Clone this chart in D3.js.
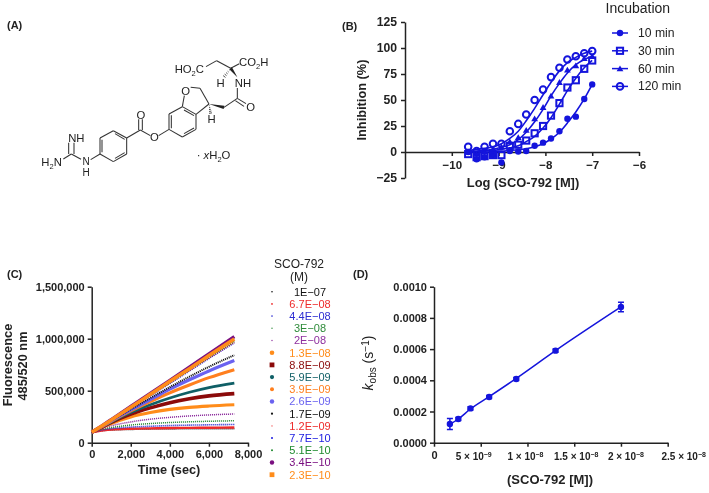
<!DOCTYPE html>
<html><head><meta charset="utf-8">
<script src="https://cdn.jsdelivr.net/npm/d3@7"></script>
<style>
html,body{margin:0;padding:0;background:#fff}
svg{display:block;filter:blur(0.3px)}
text{font-family:"Liberation Sans",Arial,sans-serif;fill:#222}
.tick text{font-weight:bold;fill:#222}
.axis path,.axis line{stroke:#222;stroke-width:1.5;shape-rendering:auto}
</style></head><body>
<svg id="c" width="709" height="493"></svg>
<script>
// ---------- Panel B data
const logDose=[-9.65,-9.47,-9.3,-9.12,-8.94,-8.76,-8.58,-8.41,-8.23,-8.05,-7.88,-7.7,-7.53,-7.35,-7.17,-7];
const b10=[0,-7,-5,-3,-10,1,0.5,1,6,9,13,20,32,34,51,65];
const b30=[-2,-5,-4,-3,-3,6,7,11,18,25,35,47,62,69,80,88];
const b60=[0,-2,0,3,5,10,14,21,32,43,54,67,79,83,90,92];
const b120=[5,1,5,8,8,20,27,36,50,60,72,81,89,92,95,97];
const fit10=[0,0,0,0.3,0.8,1.5,2.2,3.2,5,8,12.5,19,28,38.5,51,65];
const fit30=[0,0.3,0.8,1.5,2.5,4,6,10,15,23,33,46,59,71,81,88];
const fit60=[0.5,1,1.5,2.5,4.5,7,12,19,29,41,54,66,76,84,89,92];
const fit120=[1.5,2.5,3.5,5,8,13,20,30,42,55,67,78,86,91,95,97];
const incubLabels=["10 min","30 min","60 min","120 min"];
const bXTicks=[-10,-9,-8,-7,-6];
const bYTicks=[-25,0,25,50,75,100,125];
// ---------- Panel C data
const timeSec=[0,500,1000,2000,3000,4000,5000,6000,7300];
const concLabels=["1E−07","6.7E−08","4.4E−08","3E−08","2E−08","1.3E−08","8.8E−09","5.9E−09","3.9E−09","2.6E−09","1.7E−09","1.2E−09","7.7E−10","5.1E−10","3.4E−10","2.3E−10"];
const c1=[100000,115000,122000,128000,131000,133000,134000,135000,135000];
const c2=[100000,117000,126000,134000,138000,141000,143000,144000,146000];
const c3=[100000,122000,135000,150000,158000,165000,169000,172000,175000];
const c4=[100000,128000,145000,170000,184000,194000,201000,206000,211000];
const c5=[100000,135000,162000,200000,226000,244000,257000,267000,276000];
const c6=[100000,145000,185000,248000,290000,320000,340000,353000,365000];
const c7=[100000,148000,195000,275000,335000,385000,422000,450000,472000];
const c8=[100000,150000,200000,290000,365000,430000,485000,530000,572000];
const c9=[100000,152000,205000,305000,395000,480000,555000,625000,702000];
const c10=[100000,154000,210000,315000,415000,515000,605000,690000,790000];
const c11=[100000,155000,212000,322000,430000,535000,635000,730000,842000];
const c12=[100000,157000,216000,335000,455000,575000,695000,815000,965000];
const c13=[100000,157000,216000,335000,452000,570000,690000,810000,960000];
const c14=[100000,158000,217000,336000,457000,578000,700000,822000,975000];
const c15=[100000,160000,222000,348000,475000,600000,727000,855000,1020000];
const c16=[100000,158000,218000,340000,465000,590000,712000,838000,998000];
const cXTicks=[0,2000,4000,6000,8000];
const cYTicks=[0,500000,1000000,1500000];
// ---------- Panel D data
const doseD=[1.7e-9,2.6e-9,3.9e-9,5.9e-9,8.8e-9,1.3e-8,2e-8];
const kobs=[0.00012,0.000152,0.00022,0.000293,0.000408,0.00059,0.00087];
const kobsErr=[0.000035,0.00001,0.00001,0.00001,0.00001,0.00001,0.00003];
const dFit=[0.000118,0.000152,0.000216,0.000295,0.000412,0.00059,0.00087];
const dYTicks=[0,0.0002,0.0004,0.0006,0.0008,0.001];
const dXTicks=[0,5e-9,1e-8,1.5e-8,2e-8,2.5e-8];
const dXMant=["5","1","1.5","2","2.5"];
const dXExp=["−9","−8","−8","−8","−8"];
// ---------- Panel A structure (drawing units)
const singleBonds=[[340,392,380,414],[380,462,340,485],[300,414,340,392],[300,462,300,414],[380,414,380,462],[340,485,300,462],
[380,414,421,390],[421,390,451,407],[476,407,507,388],[507,388,507,342],[507,342,547,320],[547,320,588,343],[588,343,588,388],[588,388,547,411],[547,411,507,388],
[547,320,553,287],[572,262,600,265],[600,265,627,312],[627,312,588,343],[672,322,712,295],[712,295,712,264],[712,295,738,311],
[692,205,650,182],[650,182,618,200],[692,205,718,191],[300,462,272,479],[243,478,214,462],[214,462,190,477]];
const innerBonds=[[345,401,374,418],[374,458,345,475],[306,457,306,419],[416,390,416,358],[427,390,427,358],[514,385,514,346],[552,330,582,347],[582,384,552,401],[706,302,732,319],[222,462,222,428],[206,462,206,428]];
const wedges=[[627,312,672,322],[712,232,692,205]];
const hashes=[[627,312,632,342],[692,205,671,232]];
const chemLabels=[["O",423,344],["O",463,412],["O",557,272],["O",752,320],["H",635,358],["H",662,249],["NH",729,249],["NH",229,414],["N",258,484],["H",258,517]];

const NAVY="#1414dc";
const svg=d3.select("#c");
function T(x,y,s,o={}){const t=svg.append("text").attr("x",x).attr("y",y).text(s)
 .attr("font-size",o.size||10.5).attr("font-weight",o.bold?"bold":"normal").attr("text-anchor",o.anchor||"start");
 if(o.fill)t.style("fill",o.fill); if(o.rot!=null)t.attr("transform",`rotate(${o.rot} ${x} ${y})`); return t;}
[["(A)",7,29],["(B)",342,30],["(C)",7,278],["(D)",353,278]].forEach(d=>T(d[1],d[2],d[0],{bold:true,size:11}));

// ---- Panel A
const cx=d3.scaleLinear().domain([0,1020]).range([0,340]);
const cy=d3.scaleLinear().domain([0,600]).range([0,200]);
const gA=svg.append("g");
gA.selectAll(".b").data(singleBonds.concat(innerBonds)).join("line")
 .attr("x1",d=>cx(d[0])).attr("y1",d=>cy(d[1])).attr("x2",d=>cx(d[2])).attr("y2",d=>cy(d[3]))
 .attr("stroke","#333").attr("stroke-width",1.05);
gA.selectAll(".w").data(wedges).join("path")
 .attr("d",d=>{const dx=d[2]-d[0],dy=d[3]-d[1],l=Math.hypot(dx,dy),nx=-dy/l*5,ny=dx/l*5;
  return `M${cx(d[0])},${cy(d[1])}L${cx(d[2]+nx)},${cy(d[3]+ny)}L${cx(d[2]-nx)},${cy(d[3]-ny)}Z`;}).attr("fill","#222");
hashes.forEach(d=>{d3.range(1,6).forEach(i=>{const f=i/5.5,xm=d[0]+(d[2]-d[0])*f,ym=d[1]+(d[3]-d[1])*f;
 const dx=d[2]-d[0],dy=d[3]-d[1],l=Math.hypot(dx,dy),w=f*5;
 gA.append("line").attr("x1",cx(xm-dy/l*w)).attr("y1",cy(ym+dx/l*w)).attr("x2",cx(xm+dy/l*w)).attr("y2",cy(ym-dx/l*w)).attr("stroke","#222").attr("stroke-width",0.8);});});
chemLabels.forEach(d=>T(cx(d[1]),cy(d[2])+4,d[0],{size:d[0]==="N"||d[2]===517?10:11.3,anchor:"middle"}));
function chem(x,y,parts,anchor){const t=T(x,y,"",{size:11.3,anchor:anchor||"start"});
 parts.forEach(p=>{const s=t.append("tspan").text(p[0]);if(p[1]){s.attr("font-size",7.5).attr("dy",3);}else if(p[2]){s.attr("dy",-3);} if(p[3])s.attr("font-style","italic");});return t;}
chem(cx(524),cy(218),[["HO"],["2",1],["C",0,1]]);
chem(cx(717),cy(197),[["CO"],["2",1],["H",0,1]]);
chem(cx(124),cy(499),[["H"],["2",1],["N",0,1]]);
chem(cx(590),cy(477),[["· "],["x",0,0,1],["H"],["2",1],["O",0,1]]);

function styleAxis(g,size){g.attr("class","axis");g.selectAll(".tick text").attr("font-size",size);g.select(".domain").attr("fill","none");return g;}
const minus=s=>String(s).replace("-","−");

// ---- Panel B
const bx=d3.scaleLinear().domain([-11,-6]).range([405,639]);
const by=d3.scaleLinear().domain([-25,125]).range([178,22]);
styleAxis(svg.append("g").attr("transform",`translate(0,${by(0)})`)
 .call(d3.axisBottom(bx).tickValues(bXTicks).tickSize(4).tickSizeOuter(0).tickPadding(5).tickFormat(minus)),11.5);
styleAxis(svg.append("g").attr("transform",`translate(${bx(-11)},0)`)
 .call(d3.axisLeft(by).tickValues(bYTicks).tickSize(4).tickSizeOuter(0).tickPadding(4).tickFormat(minus)),12.2);
T(523,187,"Log (SCO-792 [M])",{bold:true,size:12.9,anchor:"middle"});
T(366,100,"Inhibition (%)",{bold:true,size:12.8,anchor:"middle",rot:-90});
const bFits=[fit10,fit30,fit60,fit120], bVals=[b10,b30,b60,b120], bKinds=["dot","square","tri","ring"];
const ln=d3.line().curve(d3.curveMonotoneX);
function marker(sel,kind,x,y){
 if(kind==="dot")sel.append("circle").attr("cx",x).attr("cy",y).attr("r",3.2).attr("fill",NAVY);
 if(kind==="ring")sel.append("circle").attr("cx",x).attr("cy",y).attr("r",3.3).attr("fill","none").attr("stroke",NAVY).attr("stroke-width",2);
 if(kind==="square")sel.append("rect").attr("x",x-3.1).attr("y",y-3.1).attr("width",6.2).attr("height",6.2).attr("fill","none").attr("stroke",NAVY).attr("stroke-width",2);
 if(kind==="tri")sel.append("path").attr("d",`M${x},${y-3.2}L${x+3.4},${y+2.6}L${x-3.4},${y+2.6}Z`).attr("fill",NAVY);
}
bFits.forEach((f,i)=>{
 svg.append("path").attr("d",ln(logDose.map((d,j)=>[bx(d),by(f[j])]))).attr("fill","none").attr("stroke",NAVY).attr("stroke-width",1.6);
 const g=svg.append("g");
 logDose.forEach((d,j)=>marker(g,bKinds[i],bx(d),by(bVals[i][j])));
});
T(605.5,12.5,"Incubation",{size:14});
incubLabels.forEach((s,i)=>{const y=33+i*17.8;
 svg.append("line").attr("x1",612).attr("x2",628).attr("y1",y).attr("y2",y).attr("stroke",NAVY).attr("stroke-width",1.5);
 marker(svg.append("g"),bKinds[i],620,y);
 T(638,y+4,s,{size:12.2});
});

// ---- Panel C
const tx=d3.scaleLinear().domain([0,8000]).range([91.7,248]);
const fy=d3.scaleLinear().domain([0,1500000]).range([442.7,286.7]);
styleAxis(svg.append("g").attr("transform",`translate(0,${fy(0)})`)
 .call(d3.axisBottom(tx).tickValues(cXTicks).tickSize(4).tickSizeOuter(0).tickPadding(4).tickFormat(d3.format(","))),11);
styleAxis(svg.append("g").attr("transform",`translate(${tx(0)},0)`)
 .call(d3.axisLeft(fy).tickValues(cYTicks).tickSize(4).tickSizeOuter(0).tickPadding(3).tickFormat(d3.format(","))),11);
T(169,474,"Time (sec)",{bold:true,size:12.7,anchor:"middle"});
T(12,365,"Fluorescence",{bold:true,size:12.8,anchor:"middle",rot:-90});
T(27,366,"485/520 nm",{bold:true,size:12.8,anchor:"middle",rot:-90});
const cSeries=[c1,c2,c3,c4,c5,c6,c7,c8,c9,c10,c11,c12,c13,c14,c15,c16];
const cColors=["#111","#ee2a2a","#2c2cd2","#2e8b3a","#8e2f9e","#ff8c1a","#8b0a0a","#0f5f66","#ff7f1e","#6a62f0","#111","#ee2a2a","#1a1ae0","#1e8a2e","#7a0f80","#ff8c1a"];
const cWidth=[1.6,2.4,1.6,1.5,1.5,3.2,3.6,2.8,3,3.2,2,1.4,1.6,1.6,3.4,3.6];
const cDash=[1,0,1,1,1,0,0,0,0,0,1,1,1,1,0,0];
const cOrder=[0,1,2,3,4,5,6,7,8,9,10,12,11,13,14,15];
const clinear=d3.line().curve(d3.curveMonotoneX);
cOrder.forEach(i=>{
 const p=svg.append("path").attr("d",clinear(timeSec.map((t,j)=>[tx(t),fy(cSeries[i][j])])))
  .attr("fill","none").attr("stroke",cColors[i]).attr("stroke-width",cWidth[i]);
 if(cDash[i])p.attr("stroke-dasharray","1.1 0.9");
});
T(299,267.5,"SCO-792",{size:12,anchor:"middle"});
T(299,281,"(M)",{size:12,anchor:"middle"});
const cMark=[0.8,0.9,0.8,0.7,0.7,2.3,2.4,2.1,2,2.2,1.1,0.6,1,1,2.2,2.4];
concLabels.forEach((s,i)=>{const y=291.7+i*12.2;
 if(i===6||i===15)svg.append("rect").attr("x",272-cMark[i]).attr("y",y-cMark[i]).attr("width",2*cMark[i]).attr("height",2*cMark[i]).attr("fill",cColors[i]);
 else svg.append("circle").attr("cx",272).attr("cy",y).attr("r",cMark[i]).attr("fill",cColors[i]);
 T(310,y+3.8,s,{size:11,anchor:"middle",fill:cColors[i]});
});

// ---- Panel D
const dx=d3.scaleLinear().domain([0,2.5e-8]).range([434,667.7]);
const dy=d3.scaleLinear().domain([0,0.001]).range([442.7,286.7]);
const axD=svg.append("g").attr("transform",`translate(0,${dy(0)})`)
 .call(d3.axisBottom(dx).tickValues(dXTicks).tickSize(4).tickSizeOuter(0).tickPadding(5).tickFormat(d=>d===0?"0":""));
styleAxis(axD,11);
const dXOff=[-7,-2,2,5,16];
dXMant.forEach((m,i)=>{const x=dx(dXTicks[i+1])+dXOff[i];
 const t=T(x,460,"",{bold:true,size:10,anchor:"middle"});
 t.append("tspan").text(m+" × 10");
 t.append("tspan").text(dXExp[i]).attr("font-size",7).attr("dy",-3.5);
});
styleAxis(svg.append("g").attr("transform",`translate(${dx(0)},0)`)
 .call(d3.axisLeft(dy).tickValues(dYTicks).tickSize(4).tickSizeOuter(0).tickPadding(3).tickFormat(d3.format(".4f"))),11);
T(550,484,"(SCO-792 [M])",{bold:true,size:13,anchor:"middle"});
const yt=T(373,363,"",{size:14,anchor:"middle",rot:-90});
yt.append("tspan").text("k").attr("font-style","italic");
yt.append("tspan").text("obs").attr("font-size",10).attr("dy",3);
yt.append("tspan").text(" (s").attr("dy",-3);
yt.append("tspan").text("−1").attr("font-size",10).attr("dy",-4);
yt.append("tspan").text(")").attr("dy",4);
svg.append("path").attr("d",ln(doseD.map((d,i)=>[dx(d),dy(dFit[i])]))).attr("fill","none").attr("stroke",NAVY).attr("stroke-width",1.5);
doseD.forEach((d,i)=>{const x=dx(d),y=dy(kobs[i]),e=kobsErr[i];
 svg.append("path").attr("d",`M${x-3},${dy(kobs[i]+e)}H${x+3}M${x-3},${dy(kobs[i]-e)}H${x+3}M${x},${dy(kobs[i]+e)}V${dy(kobs[i]-e)}`)
  .attr("stroke",NAVY).attr("stroke-width",1.5).attr("fill","none");
 svg.append("circle").attr("cx",x).attr("cy",y).attr("r",3.2).attr("fill",NAVY);
});
</script></body></html>
